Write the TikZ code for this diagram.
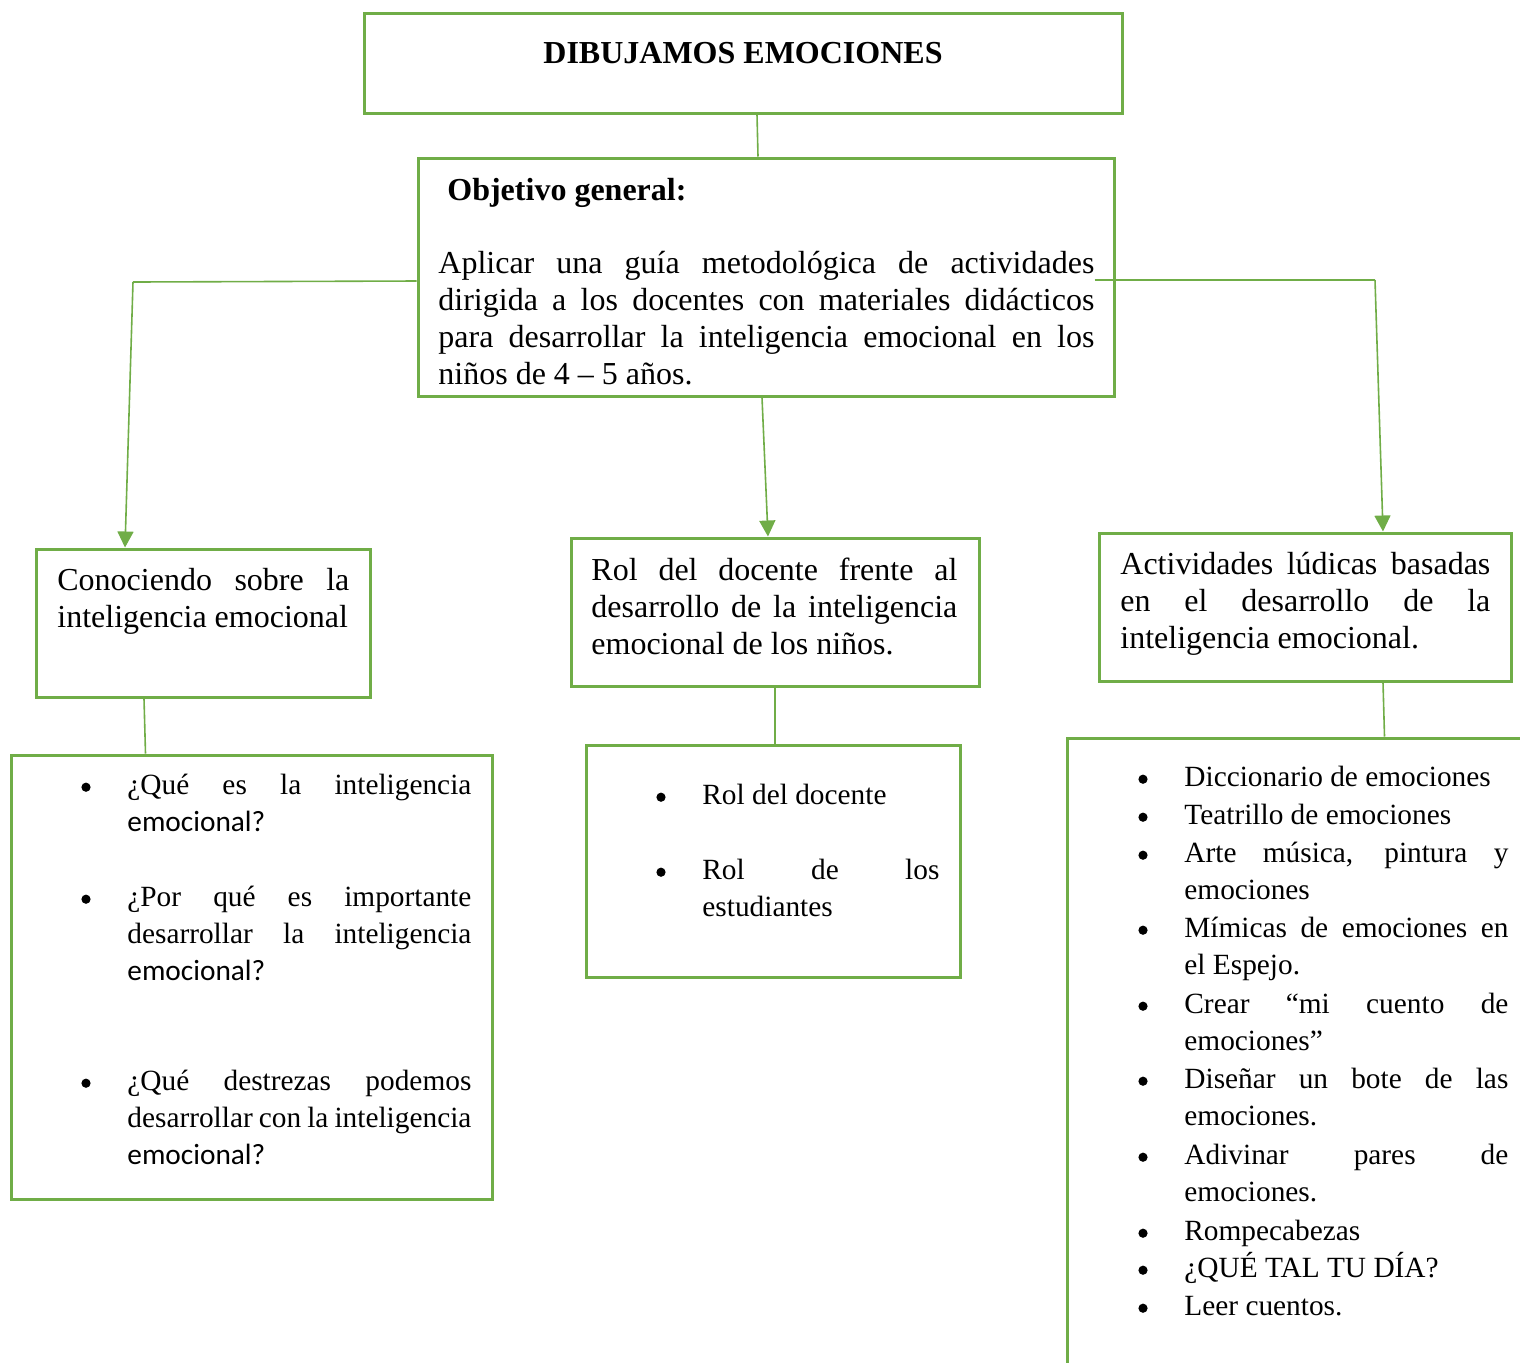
\documentclass[tikz,border=0pt]{standalone}
\usepackage{fontspec}
\setmainfont{Liberation Serif}
\newfontfamily\carl{Carlito}
\usetikzlibrary{arrows.meta,calc,fit}
\definecolor{leaf}{RGB}{112,173,71}
\tolerance=9999
\hyphenpenalty=10000
\tikzset{
	box/.style={draw=leaf,line width=1.5pt,inner sep=0pt},
	link/.style={leaf,line width=0.8pt},
	arr/.style={link,-{Triangle[width=8pt,length=8pt]}},
	lab/.style={anchor=base west,inner sep=0pt,font=\fontsize{16}{18.5}\selectfont},
	head/.style={anchor=base west,inner sep=0pt,align=justify,font=\fontsize{16}{18.5}\selectfont},
	itm/.style={anchor=base west,inner sep=0pt,align=justify,font=\fontsize{14.67}{18.5}\selectfont},
	itmr/.style={itm,font=\fontsize{14.67}{18.9}\selectfont},
	dot/.style={circle,fill=black,inner sep=0pt,minimum size=4.6pt,yshift=3.4pt}
}
\begin{document}
\begin{tikzpicture}[x=0.5pt,y=-0.5pt]
	\useasboundingbox (0,0) rectangle (1520,1362);
	\clip (0,0) rectangle (1520,1362);
	% cajas
	\node[box,fit={(364,13)(1122,113)}](tit){};
	\node[box,fit={(418,158)(1114,396)}](obj){};
	\node[box,fit={(36,549)(370,697)}](con){};
	\node[box,fit={(571,538)(979,686)}](rol){};
	\node[box,fit={(1099,533)(1511,681)}](act){};
	\node[box,fit={(11,755)(492,1199)}](preg){};
	\node[box,fit={(586,745)(960,977)}](roles){};
	\node[box,fit={(1067,738)(1600,1440)}](lud){};
	
	% textos
	\node[lab,anchor=base,font=\fontsize{16}{18.5}\selectfont\bfseries](titt) at (743,63){DIBUJAMOS EMOCIONES};
	\node[lab,font=\fontsize{16}{18.5}\selectfont\bfseries](objh) at (447,200){Objetivo general:};
	\node[head,text width=328pt](objt) at (438,273){Aplicar una guía metodológica de actividades \linebreak dirigida a los docentes con materiales didácticos \linebreak para desarrollar la inteligencia emocional en los \linebreak niños de 4 – 5 años.};
	\node[head,text width=146pt](cont) at (57,590){Conociendo sobre la \linebreak inteligencia emocional};
	\node[head,text width=183pt](rolt) at (591,580){Rol del docente frente al \linebreak desarrollo de la inteligencia \linebreak emocional de los niños.};
	\node[head,text width=185pt](actt) at (1120,574){Actividades lúdicas basadas \linebreak en el desarrollo de la \linebreak inteligencia emocional.};
	
	% preguntas
	\node[dot](b1) at (86,794){};
	\node[itm,text width=172pt](p1) at (127,794){¿Qué es la inteligencia \linebreak {\carl emocional?}};
	\node[dot](b2) at (86,906){};
	\node[itm,text width=172pt](p2) at (127,906){¿Por qué es importante \linebreak desarrollar la inteligencia \linebreak {\carl emocional?}};
	\node[dot](b3) at (86,1090){};
	\node[itm,text width=172pt](p3) at (127,1090){¿Qué destrezas podemos \linebreak desarrollar con la inteligencia \linebreak {\carl emocional?}};
	
	% roles
	\node[dot](b4) at (661,804){};
	\node[itm,text width=118.5pt](r1) at (702,804){Rol del docente};
	\node[dot](b5) at (661,879){};
	\node[itm,text width=118.5pt](r2) at (702,879){Rol de los \linebreak estudiantes};
	
	% actividades
	\node[dot](c1) at (1143,786){};
	\node[itmr,text width=162pt](a1) at (1184,786){Diccionario de emociones};
	\node[dot](c2) at (1143,824){};
	\node[itmr,text width=162pt](a2) at (1184,824){Teatrillo de emociones};
	\node[dot](c3) at (1143,862){};
	\node[itmr,text width=162pt](a3) at (1184,862){Arte música, pintura y \linebreak emociones};
	\node[dot](c4) at (1143,937){};
	\node[itmr,text width=162pt](a4) at (1184,937){Mímicas de emociones en \linebreak el Espejo.};
	\node[dot](c5) at (1143,1013){};
	\node[itmr,text width=162pt](a5) at (1184,1013){Crear “mi cuento de \linebreak emociones”};
	\node[dot](c6) at (1143,1088){};
	\node[itmr,text width=162pt](a6) at (1184,1088){Diseñar un bote de las \linebreak emociones.};
	\node[dot](c7) at (1143,1164){};
	\node[itmr,text width=162pt](a7) at (1184,1164){Adivinar pares de \linebreak emociones.};
	\node[dot](c8) at (1143,1240){};
	\node[itmr,text width=162pt](a8) at (1184,1240){Rompecabezas};
	\node[dot](c9) at (1143,1277){};
	\node[itmr,text width=162pt](a9) at (1184,1277){¿QUÉ TAL TU DÍA?};
	\node[dot](c10) at (1143,1315){};
	\node[itmr,text width=162pt](a10) at (1184,1315){Leer cuentos.};
	
	% conectores
	\coordinate (kl) at (133,282);
	\coordinate (kr) at (1375,280);
	\draw[link] ($(tit.south)+(14,0)$) -- ($(obj.north)+(-8,0)$);
	\draw[link] ($(obj.west)+(0,4)$) -- (kl);
	\draw[arr] (kl) -- ($(con.north)+(-78,0)$);
	\draw[link] ($(obj.east)+(-21,3)$) -- (kr);
	\draw[arr] (kr) -- ($(act.north)+(78,0)$);
	\draw[arr] ($(obj.south)+(-4,0)$) -- ($(rol.north)+(-7,0)$);
	\draw[link] ($(con.south)+(-59,0)$) -- ($(preg.north)+(-106,0)$);
	\draw[link] (rol.south) -- (roles.north -| rol.south);
	\draw[link] ($(act.south)+(78,0)$) -- ($(lud.north)+(51,0)$);
\end{tikzpicture}
\end{document}
